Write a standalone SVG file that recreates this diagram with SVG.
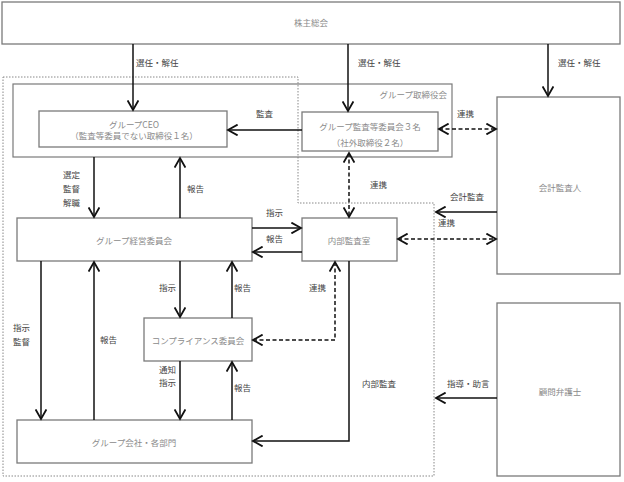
<svg xmlns="http://www.w3.org/2000/svg" width="624" height="482" viewBox="0 0 624 482">
<style>
.box{fill:#fff;stroke:#7a7a7a;stroke-width:1.3}
.frame{fill:none;stroke:#7a7a7a;stroke-width:1.2}
.dot{fill:none;stroke:#888;stroke-width:1;stroke-dasharray:1.5,1.5}
.bt{font-family:"Noto Sans CJK JP","Noto Sans",sans-serif;font-size:8.5px;fill:#8a8a8a;text-anchor:middle;dominant-baseline:central}
.lb{font-family:"Noto Sans CJK JP","Noto Sans",sans-serif;font-size:8.5px;fill:#444;dominant-baseline:central}
.ln{fill:none;stroke:#111;stroke-width:1.5}
.ds{fill:none;stroke:#111;stroke-width:1.5;stroke-dasharray:4,2.5}
</style>
<defs>
<marker id="ah" markerUnits="userSpaceOnUse" markerWidth="12" markerHeight="12" refX="8" refY="5" orient="auto-start-reverse" viewBox="0 0 10 10">
<path d="M0,0.5 L8,5 L0,9.5" fill="none" stroke="#111" stroke-width="1.5"/>
</marker>
</defs>
<rect width="624" height="482" fill="#fff"/>
<path class="dot" d="M3,77 H298 V203 H434 V476 H3 Z"/>
<g id="shareholders"><rect class="box" x="2" y="2" width="618" height="42"/><text class="bt" x="311" y="22">株主総会</text></g>
<g id="board"><rect class="frame" x="13" y="84" width="439" height="73"/><text class="bt" x="447" y="94" style="text-anchor:end">グループ取締役会</text></g>
<g id="ceo"><rect class="box" x="39" y="111" width="188" height="36"/><text class="bt" x="134" y="124">グループCEO</text><text class="bt" x="134" y="135">（監査等委員でない取締役１名）</text></g>
<g id="audit-committee"><rect class="box" x="302" y="112" width="136" height="39"/><text class="bt" x="370" y="126">グループ監査等委員会３名</text><text class="bt" x="370" y="142">（社外取締役２名）</text></g>
<g id="accounting-auditor"><rect class="box" x="497" y="97" width="123" height="177"/><text class="bt" x="560" y="187">会計監査人</text></g>
<g id="management-committee"><rect class="box" x="17" y="218" width="235" height="43"/><text class="bt" x="134" y="240">グループ経営委員会</text></g>
<g id="internal-audit-office"><rect class="box" x="302" y="218" width="95" height="43"/><text class="bt" x="349" y="240">内部監査室</text></g>
<g id="compliance-committee"><rect class="box" x="144" y="318" width="108" height="43"/><text class="bt" x="198" y="340">コンプライアンス委員会</text></g>
<g id="group-companies"><rect class="box" x="17" y="420" width="235" height="43"/><text class="bt" x="134" y="442">グループ会社・各部門</text></g>
<g id="legal-counsel"><rect class="box" x="497" y="303" width="123" height="173"/><text class="bt" x="560" y="391">顧問弁護士</text></g>
<g id="connectors">
<path class="ln" d="M133,44 V110" marker-end="url(#ah)"/>
<path class="ln" d="M348,44 V111" marker-end="url(#ah)"/>
<path class="ln" d="M548,44 V96" marker-end="url(#ah)"/>
<path class="ln" d="M302,130 H228" marker-end="url(#ah)"/>
<path class="ds" d="M439,129 H496" marker-start="url(#ah)" marker-end="url(#ah)"/>
<path class="ln" d="M94,157 V217" marker-end="url(#ah)"/>
<path class="ln" d="M180,218 V158" marker-end="url(#ah)"/>
<path class="ds" d="M349,153 V217" marker-start="url(#ah)" marker-end="url(#ah)"/>
<path class="ln" d="M497,212 H436" marker-end="url(#ah)"/>
<path class="ln" d="M252,228 H301" marker-end="url(#ah)"/>
<path class="ln" d="M302,252 H253" marker-end="url(#ah)"/>
<path class="ds" d="M398,239 H496" marker-start="url(#ah)" marker-end="url(#ah)"/>
<path class="ln" d="M180,261 V317" marker-end="url(#ah)"/>
<path class="ln" d="M232,318 V262" marker-end="url(#ah)"/>
<path class="ds" d="M335,262 V340 H253" marker-start="url(#ah)" marker-end="url(#ah)"/>
<path class="ln" d="M41,261 V419" marker-end="url(#ah)"/>
<path class="ln" d="M94,420 V262" marker-end="url(#ah)"/>
<path class="ln" d="M180,361 V419" marker-end="url(#ah)"/>
<path class="ln" d="M232,420 V362" marker-end="url(#ah)"/>
<path class="ln" d="M349,261 V441 H253" marker-end="url(#ah)"/>
<path class="ln" d="M497,398 H436" marker-end="url(#ah)"/>
</g>
<g id="labels">
<text class="lb" x="136" y="62">選任・解任</text>
<text class="lb" x="358" y="62">選任・解任</text>
<text class="lb" x="558" y="62">選任・解任</text>
<text class="lb" x="256" y="113">監査</text>
<text class="lb" x="457" y="113">連携</text>
<text class="lb" x="63" y="174">選定</text>
<text class="lb" x="63" y="188">監督</text>
<text class="lb" x="63" y="202">解職</text>
<text class="lb" x="187" y="188">報告</text>
<text class="lb" x="370" y="184">連携</text>
<text class="lb" x="450" y="196">会計監査</text>
<text class="lb" x="438" y="222">連携</text>
<text class="lb" x="266" y="212">指示</text>
<text class="lb" x="266" y="238">報告</text>
<text class="lb" x="159" y="287">指示</text>
<text class="lb" x="234" y="287">報告</text>
<text class="lb" x="309" y="287">連携</text>
<text class="lb" x="13" y="327">指示</text>
<text class="lb" x="13" y="341">監督</text>
<text class="lb" x="100" y="339">報告</text>
<text class="lb" x="159" y="369">通知</text>
<text class="lb" x="159" y="382">指示</text>
<text class="lb" x="234" y="387">報告</text>
<text class="lb" x="362" y="383">内部監査</text>
<text class="lb" x="447" y="383">指導・助言</text>
</g>
</svg>
